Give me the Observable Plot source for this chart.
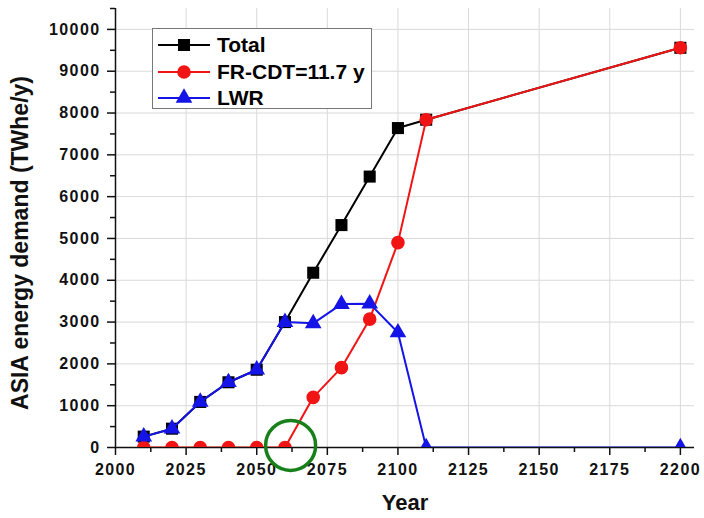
<!DOCTYPE html>
<html>
<head>
<meta charset="utf-8">
<script src="https://cdn.jsdelivr.net/npm/d3@7"></script>
<script src="https://cdn.jsdelivr.net/npm/@observablehq/plot@0.6"></script>
<style>
  body { margin: 0; background: #fff; }
  #wrap { position: relative; width: 704px; height: 518px; font-family: "Liberation Sans", Arial, sans-serif; }
  #legend { position: absolute; left: 152px; top: 28px; width: 220px; height: 81px; border: 1.5px solid #777; background: #fff; box-sizing: border-box; }
  .row { position: absolute; left: 4px; height: 26px; display: flex; align-items: center; }
  .row span { font-weight: bold; font-size: 21px; margin-left: 6px; color: #000; }
</style>
</head>
<body>
<div id="wrap"><div id="legend"></div></div>
<script>
// ---- data ----
const years = [2010, 2020, 2030, 2040, 2050, 2060, 2070, 2080, 2090, 2100, 2110, 2200];
const total = [260, 450, 1090, 1560, 1860, 3000, 4180, 5320, 6480, 7640, 7840, 9560];
const frCdt = [0, 0, 0, 0, 0, 0, 1200, 1910, 3070, 4900, 7840, 9560];
const lwr   = [260, 450, 1090, 1560, 1860, 3000, 2970, 3430, 3440, 2750, 0, 0];
const seriesNames = ["Total", "FR-CDT=11.7 y", "LWR"];
const seriesColors = ["#000000", "#f01414", "#1414e6"];
const seriesSymbols = ["square", "circle", "triangle"];
const xTicks = [2000, 2025, 2050, 2075, 2100, 2125, 2150, 2175, 2200];
const yTicks = [0, 1000, 2000, 3000, 4000, 5000, 6000, 7000, 8000, 9000, 10000];
const highlight = [{year: 2062, value: 50}];
const xLabel = "Year";
const yLabel = "ASIA energy demand (TWhe/y)";

const seriesValues = [total, frCdt, lwr];
const rows = [];
seriesNames.forEach((name, i) => years.forEach((y, j) => rows.push({series: name, year: y, value: seriesValues[i][j]})));
const xMinor = xTicks.slice(0, -1).map((t, i) => (t + xTicks[i + 1]) / 2);
const yMinor = yTicks.map(t => t + 500);
const symR = {square: 6.8, circle: 6.8, triangle: 6.2};

const seriesMarks = seriesNames.flatMap((name, i) => {
  const d = rows.filter(r => r.series === name);
  return [
    Plot.line(d, {x: "year", y: "value", stroke: seriesColors[i], strokeWidth: 2, clip: true}),
    Plot.dot(d, {x: "year", y: "value", fill: seriesColors[i], stroke: "none", symbol: () => seriesSymbols[i], r: symR[seriesSymbols[i]], clip: true})
  ];
});

const fmt = d3.format("d");
const chart = Plot.plot({
  width: 704,
  height: 518,
  marginLeft: 115,
  marginRight: 10,
  marginTop: 8,
  marginBottom: 71,
  style: {fontFamily: "'Liberation Sans', Arial, sans-serif", fontWeight: "bold", color: "#111", background: "#fff"},
  x: {domain: [2000, 2205]},
  y: {domain: [0, 10500]},
  symbol: {type: "identity"},
  marks: [
    Plot.gridX(xTicks.slice(1), {stroke: "#d9d9d9", strokeOpacity: 1, strokeWidth: 1}),
    Plot.gridY(yTicks.slice(1), {stroke: "#d9d9d9", strokeOpacity: 1, strokeWidth: 1}),
    Plot.axisX(xTicks, {tickSize: 8, tickPadding: 8, label: null, tickFormat: fmt, fontSize: 16, fontWeight: "bold", stroke: "#111", strokeWidth: 1.5}),
    Plot.axisX(xMinor, {tickSize: 5, text: null, label: null, stroke: "#111", strokeWidth: 1.5}),
    Plot.axisY(yTicks, {tickSize: 8, tickPadding: 7, label: null, tickFormat: fmt, fontSize: 16, fontWeight: "bold", stroke: "#111", strokeWidth: 1.5}),
    Plot.axisY(yMinor, {tickSize: 5, text: null, label: null, stroke: "#111", strokeWidth: 1.5}),
    Plot.ruleX([2000], {stroke: "#111", strokeWidth: 1.5}),
    Plot.ruleY([0], {stroke: "#111", strokeWidth: 1.5}),
    ...seriesMarks,
    Plot.dot(highlight, {x: "year", y: "value", r: 25, stroke: "#17801a", strokeWidth: 3.5, fill: "none"}),
    Plot.text([xLabel], {frameAnchor: "bottom", dy: 62, fontSize: 22, fontWeight: "bold", fill: "#111"}),
    Plot.text([yLabel], {frameAnchor: "left", textAnchor: "middle", rotate: -90, dx: -95, dy: 15, fontSize: 23, fontWeight: "bold", fill: "#111"})
  ]
});
document.getElementById("wrap").prepend(chart);
// widen tick labels like the reference
d3.select(chart).selectAll('g[aria-label="y-axis tick label"] text, g[aria-label="x-axis tick label"] text').style("letter-spacing", "1.4px");

// ---- legend ----
const legend = document.getElementById("legend");
seriesNames.forEach((name, i) => {
  const row = document.createElement("div");
  row.className = "row";
  row.style.top = (3 + i * 26.5) + "px";
  const svg = d3.create("svg").attr("width", 54).attr("height", 22);
  svg.append("line").attr("x1", 1).attr("x2", 53).attr("y1", 11).attr("y2", 11).attr("stroke", seriesColors[i]).attr("stroke-width", 2);
  const sym = {square: d3.symbolSquare, circle: d3.symbolCircle, triangle: d3.symbolTriangle}[seriesSymbols[i]];
  const r = symR[seriesSymbols[i]];
  svg.append("path").attr("transform", "translate(27,11)").attr("d", d3.symbol(sym, Math.PI * r * r)()).attr("fill", seriesColors[i]);
  row.appendChild(svg.node());
  const s = document.createElement("span");
  s.textContent = name;
  row.appendChild(s);
  legend.appendChild(row);
});
</script>
</body>
</html>
